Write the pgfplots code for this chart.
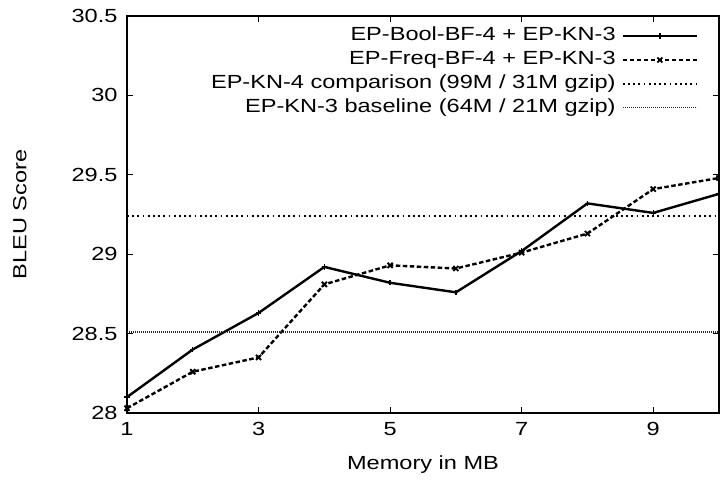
\documentclass[border=0pt]{standalone}
\usepackage{fontspec}
\setmainfont{Liberation Sans}[FakeStretch=1.24]
\newfontfamily\ylfont{Liberation Sans}[FakeStretch=1.1]
\usepackage{pgfplots}
\pgfplotsset{compat=1.18}
\usetikzlibrary{calc}
\begin{document}
\fontsize{19bp}{22bp}\selectfont
\begin{tikzpicture}
\begin{axis}[
  scale only axis, width=592bp, height=397bp,
  xmin=1, xmax=10, ymin=28, ymax=30.5,
  xtick={1,3,5,7,9}, ytick={28,28.5,29,29.5,30,30.5},
  tick align=inside, major tick length=6bp,
  axis line style={line width=1.2bp},
  every tick/.style={line width=1bp, black},
  /pgf/number format/assume math mode=true,
  /pgf/number format/fixed,
  ticklabel style={font=\fontsize{19bp}{22bp}\selectfont},
  yticklabel style={xshift=-3bp},
  xticklabel style={yshift=-3bp},
  xlabel={Memory in MB}, ylabel={BLEU Score},
  xlabel style={font=\fontsize{19bp}{22bp}\selectfont},
  ylabel style={font=\ylfont\fontsize{21bp}{24bp}\selectfont},
  every axis x label/.style={at={(axis description cs:0.5,0)}, anchor=center, yshift=-52bp},
  every axis y label/.style={at={(axis description cs:-0.181,0.5)}, rotate=90, anchor=center},
  legend plot pos=right,
  legend cell align=right,
  legend style={draw=none, fill=none, at={(rel axis cs:0.97,0.985)}, anchor=north east,
     font=\fontsize{19bp}{22bp}\selectfont, row sep=0pt, column sep=4bp,
     nodes={inner xsep=2bp, inner ysep=4bp, text height=12.6bp, text depth=3.3bp}},
  legend image code/.code={\draw[mark repeat=2,mark phase=2,#1] plot coordinates {(0bp,0bp)(37bp,0bp)(74bp,0bp)};},
]
\addplot[black, line width=2.4bp, mark=+, mark size=2.6bp, mark options={solid, line width=1.4bp}] coordinates {
(1,28.10) (2,28.40) (3,28.63) (4,28.92) (5,28.82) (6,28.76) (7,29.02) (8,29.32) (9,29.26) (10,29.38)};
\addlegendentry{EP-Bool-BF-4 + EP-KN-3}
\addplot[black, line width=2.4bp, dash pattern=on 4.5bp off 2.5bp, mark=x, mark size=3.6bp, mark options={solid, line width=1.9bp}] coordinates {
(1,28.03) (2,28.26) (3,28.35) (4,28.81) (5,28.93) (6,28.91) (7,29.01) (8,29.13) (9,29.41) (10,29.48)};
\addlegendentry{EP-Freq-BF-4 + EP-KN-3}
\addplot[black, line width=1.8bp, dash pattern=on 1.8bp off 3.4bp] coordinates {(1,29.24) (10,29.24)};
\addlegendentry{EP-KN-4 comparison (99M / 31M gzip)}
\addplot[black!85, line width=1.4bp, dash pattern=on 1bp off 1bp] coordinates {(1,28.51) (10,28.51)};
\addlegendentry{EP-KN-3 baseline (64M / 21M gzip)}
\coordinate (sw) at (rel axis cs:0,0);
\coordinate (ne) at (rel axis cs:1,1);
\end{axis}
\pgfresetboundingbox
\path[use as bounding box] ($(sw)+(-127bp,-71bp)$) rectangle ($(ne)+(1bp,16bp)$);
\end{tikzpicture}
\end{document}
